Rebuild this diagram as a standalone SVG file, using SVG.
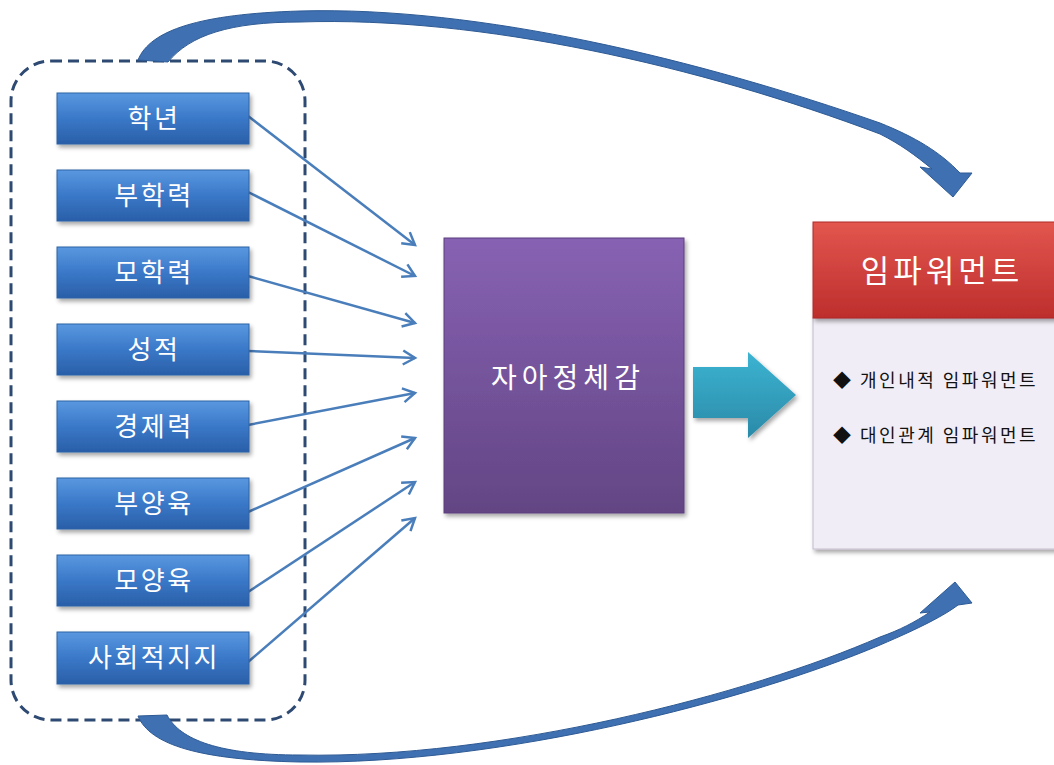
<svg xmlns="http://www.w3.org/2000/svg" width="1054" height="765" viewBox="0 0 1054 765">
<defs>
  <linearGradient id="gBlue" x1="0" y1="0" x2="0" y2="1">
    <stop offset="0" stop-color="#5a98e0"/>
    <stop offset="0.5" stop-color="#3a78c8"/>
    <stop offset="1" stop-color="#2a5fa8"/>
  </linearGradient>
  <linearGradient id="gPurple" x1="0" y1="0" x2="0" y2="1">
    <stop offset="0" stop-color="#8762b3"/>
    <stop offset="1" stop-color="#634584"/>
  </linearGradient>
  <linearGradient id="gTeal" x1="0" y1="0" x2="0" y2="1">
    <stop offset="0" stop-color="#3cb4d2"/>
    <stop offset="1" stop-color="#2a8aa8"/>
  </linearGradient>
  <linearGradient id="gRed" x1="0" y1="0" x2="0" y2="1">
    <stop offset="0" stop-color="#e2564f"/>
    <stop offset="1" stop-color="#bd2e2c"/>
  </linearGradient>
  <filter id="sh" x="-10%" y="-10%" width="125%" height="130%">
    <feDropShadow dx="2" dy="3" stdDeviation="2" flood-color="#000" flood-opacity="0.35"/>
  </filter>
  <marker id="ah" markerUnits="userSpaceOnUse" markerWidth="20" markerHeight="20" refX="15" refY="10" orient="auto">
    <path d="M3,3 L15,10 L3,17" fill="none" stroke="#4a7ebb" stroke-width="2.5" stroke-linejoin="miter"/>
  </marker>
  <style>
    .box { fill: url(#gBlue); stroke: #2f62a6; stroke-width: 1; filter: url(#sh); }
    .lbl { font-family: "Noto Sans CJK KR", "Noto Sans", sans-serif; font-size: 26px; letter-spacing: 2.5px; fill: #ffffff; text-anchor: middle; }
    .conn { stroke: #4a7ebb; stroke-width: 2.5; fill: none; marker-end: url(#ah); }
    .curve { fill: #3e70b2; stroke: #2e5a94; stroke-width: 1; }
    .item { font-family: "Noto Sans CJK KR", "Noto Sans", sans-serif; font-size: 18px; letter-spacing: 2.5px; fill: #111111; }
  </style>
</defs>
<rect width="1054" height="765" fill="#ffffff"/>

<g id="group-frame">
  <rect x="11" y="61" width="294" height="659" rx="40" ry="40" fill="none" stroke="#2e4a72" stroke-width="3" stroke-dasharray="11,6"/>
</g>

<g id="connectors">
  <line class="conn" x1="248" y1="116" x2="415" y2="245"/>
  <line class="conn" x1="248" y1="192" x2="415" y2="276"/>
  <line class="conn" x1="248" y1="276" x2="415" y2="323"/>
  <line class="conn" x1="248" y1="351" x2="415" y2="358"/>
  <line class="conn" x1="248" y1="425" x2="415" y2="393"/>
  <line class="conn" x1="248" y1="512" x2="415" y2="438"/>
  <line class="conn" x1="248" y1="592" x2="415" y2="482"/>
  <line class="conn" x1="248" y1="662" x2="415" y2="518"/>
  <path id="curve-top" class="curve" d="M138,60 C150,30 200,14 300,11 C480,6 700,60 880,123 C915,137 940,152 960,173 L972,173 L953,197 L920,167 L932,169 C915,155 900,144 880,134 C700,66 480,16 300,22 C230,22 190,35 168,62 Z"/>
  <path id="curve-bottom" class="curve" d="M138,716 C150,745 200,760 300,762 C500,765 750,700 880,645 C920,628 945,615 958,605 L972,603 L955,582 L920,613 L930,612 C915,622 900,630 880,637 C750,694 500,759 300,755 C220,755 180,740 167,715 Z"/>
  <path id="big-arrow" d="M693,367 L748,367 L748,352 L796,395 L748,438 L748,418 L693,418 Z" fill="url(#gTeal)" filter="url(#sh)"/>
</g>

<g id="node-hakyeon"><rect class="box" x="57" y="93" width="192" height="51"/><text class="lbl" x="154" y="128">학년</text></g>
<g id="node-buhakryeok"><rect class="box" x="57" y="170" width="192" height="51"/><text class="lbl" x="154" y="205">부학력</text></g>
<g id="node-mohakryeok"><rect class="box" x="57" y="247" width="192" height="51"/><text class="lbl" x="154" y="282">모학력</text></g>
<g id="node-seongjeok"><rect class="box" x="57" y="324" width="192" height="51"/><text class="lbl" x="154" y="359">성적</text></g>
<g id="node-gyeongjeryeok"><rect class="box" x="57" y="401" width="192" height="51"/><text class="lbl" x="154" y="436">경제력</text></g>
<g id="node-buyangyuk"><rect class="box" x="57" y="478" width="192" height="51"/><text class="lbl" x="154" y="513">부양육</text></g>
<g id="node-moyangyuk"><rect class="box" x="57" y="555" width="192" height="51"/><text class="lbl" x="154" y="590">모양육</text></g>
<g id="node-sahoejeokjiji"><rect class="box" x="57" y="632" width="192" height="52"/><text class="lbl" x="154" y="667">사회적지지</text></g>

<g id="node-identity">
  <rect x="444" y="238" width="240" height="275" fill="url(#gPurple)" stroke="#5c3f7c" stroke-width="1" filter="url(#sh)"/>
  <text x="568" y="388" font-family="Noto Sans CJK KR, Noto Sans, sans-serif" font-size="28" fill="#ffffff" text-anchor="middle" letter-spacing="5">자아정체감</text>
</g>

<g id="node-empowerment">
  <rect x="813" y="318" width="245" height="231" fill="#f1edf6" stroke="#c4bccd" stroke-width="1" filter="url(#sh)"/>
  <rect x="813" y="222" width="245" height="96" fill="url(#gRed)" stroke="#b02a28" stroke-width="1" filter="url(#sh)"/>
  <text x="942" y="282" font-family="Noto Sans CJK KR, Noto Sans, sans-serif" font-size="31" fill="#ffffff" text-anchor="middle" letter-spacing="4">임파워먼트</text>
  <text class="item" x="833" y="387">◆ 개인내적 임파워먼트</text>
  <text class="item" x="833" y="442">◆ 대인관계 임파워먼트</text>
</g>
</svg>
